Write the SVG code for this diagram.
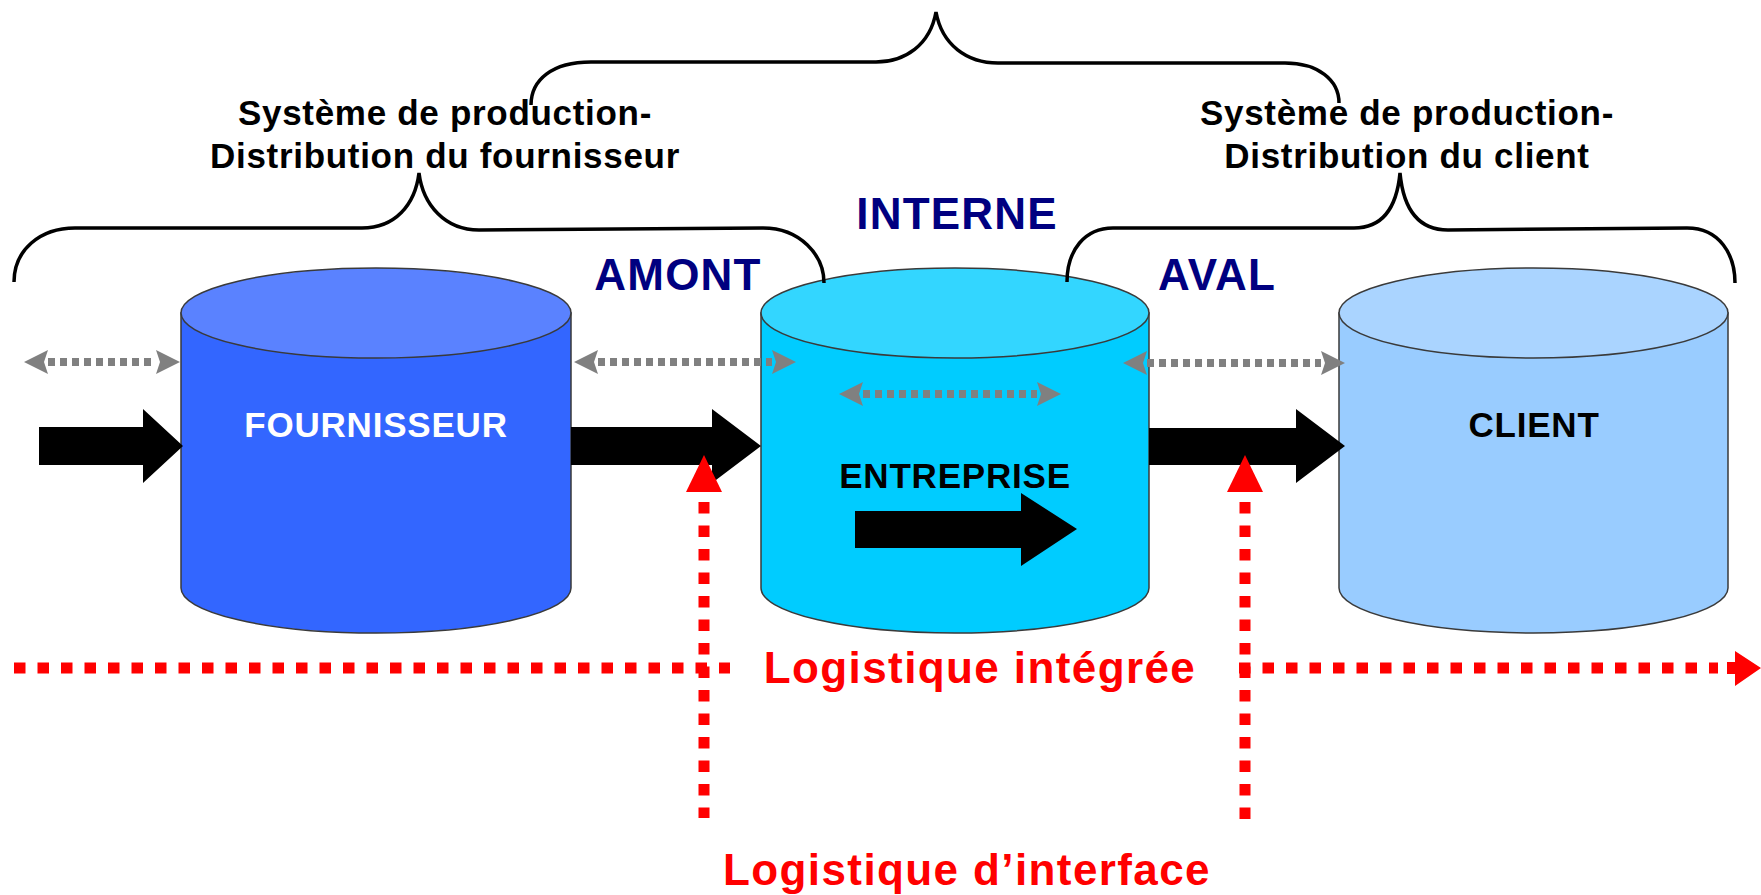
<svg xmlns="http://www.w3.org/2000/svg" width="1761" height="895" viewBox="0 0 1761 895">
<style>
.lbl{font-family:"Liberation Sans",Arial,sans-serif;font-weight:bold;text-anchor:middle}
.sys{font-size:35px;letter-spacing:0.7px;fill:#000}
.cyl{font-size:35px;letter-spacing:0.8px}
.zone{font-size:44px;letter-spacing:1.2px;fill:#000080}
.red{font-size:44px;letter-spacing:1.4px;fill:#FF0000}
.brace{fill:none;stroke:#000;stroke-width:3.5}
.cylout{stroke:#3a3a3a;stroke-width:1.5}
.gline{fill:none;stroke:#808080;stroke-width:8;stroke-dasharray:7 5}
.ghead{fill:#808080}
.block{fill:#000}
.rline{fill:none;stroke:#FF0000;stroke-width:11;stroke-dasharray:11.5 12}
.rhead{fill:#FF0000}
</style>
<rect width="1761" height="895" fill="#fff"/>

<g id="fournisseur">
<path class="cylout" d="M181,313 L181,588 A195,45 0 0 0 571,588 L571,313 Z" fill="#3366FF"/>
<ellipse class="cylout" cx="376" cy="313" rx="195" ry="45" fill="#5A82FF"/>
<text class="lbl cyl" x="376" y="437" fill="#fff">FOURNISSEUR</text>
</g>
<g id="entreprise">
<path class="cylout" d="M761,313 L761,588 A194,45 0 0 0 1149,588 L1149,313 Z" fill="#00CCFF"/>
<ellipse class="cylout" cx="955" cy="313" rx="194" ry="45" fill="#33D6FF"/>
<text class="lbl cyl" x="955" y="488" fill="#000">ENTREPRISE</text>
</g>
<g id="client">
<path class="cylout" d="M1339,313 L1339,588 A194.5,45 0 0 0 1728,588 L1728,313 Z" fill="#99CCFF"/>
<ellipse class="cylout" cx="1533.5" cy="313" rx="194.5" ry="45" fill="#AAD4FF"/>
<text class="lbl cyl" x="1534" y="437" fill="#000">CLIENT</text>
</g>

<g id="braces">
<path class="brace" d="M531,105 C531,80 552,62 591,62 L876,62 C905,62 930,45 936,12 C942,45 967,63 998,63 L1285,63 C1318,63 1339,80 1339,103"/>
<path class="brace" d="M14,282 C14,250 40,228 75,228 L362,228 C395,228 415,205 419,173 C423,205 445,230 479,230 L763,228 C800,228 824,255 824,283"/>
<path class="brace" d="M1067,282 C1067,250 1085,228 1113,228 L1354,228 C1385,228 1397,205 1400,173 C1403,205 1415,230 1448,230 L1687,228 C1720,228 1735,255 1735,283"/>
</g>

<g id="labels">
<text class="lbl sys" x="445" y="125">Système de production-</text>
<text class="lbl sys" x="445" y="168">Distribution du fournisseur</text>
<text class="lbl sys" x="1407" y="125">Système de production-</text>
<text class="lbl sys" x="1407" y="168">Distribution du client</text>
<text class="lbl zone" x="957" y="229">INTERNE</text>
<text class="lbl zone" x="678" y="290">AMONT</text>
<text class="lbl zone" x="1217" y="290">AVAL</text>
<text class="lbl red" x="980" y="683">Logistique intégrée</text>
<text class="lbl red" x="967" y="885">Logistique d’interface</text>
</g>

<g id="connectors">
<!-- gray dotted double arrows -->
<line class="gline" x1="48" y1="362" x2="156" y2="362"/>
<polygon class="ghead" points="24,362 48,350 44,362 48,374"/>
<polygon class="ghead" points="180,362 156,350 160,362 156,374"/>
<line class="gline" x1="598" y1="362" x2="772" y2="362"/>
<polygon class="ghead" points="574,362 598,350 594,362 598,374"/>
<polygon class="ghead" points="796,362 772,350 776,362 772,374"/>
<line class="gline" x1="863" y1="394" x2="1037" y2="394"/>
<polygon class="ghead" points="839,394 863,382 859,394 863,406"/>
<polygon class="ghead" points="1061,394 1037,382 1041,394 1037,406"/>
<line class="gline" x1="1147" y1="363" x2="1321" y2="363"/>
<polygon class="ghead" points="1123,363 1147,351 1143,363 1147,375"/>
<polygon class="ghead" points="1345,363 1321,351 1325,363 1321,375"/>

<!-- black block arrows -->
<polygon class="block" points="39,427 143,427 143,409 183,446 143,483 143,465 39,465"/>
<polygon class="block" points="571,427 712,427 712,409 761,446 712,483 712,465 571,465"/>
<polygon class="block" points="1149,428 1296,428 1296,409 1345,446 1296,483 1296,465 1149,465"/>
<polygon class="block" points="855,511 1021,511 1021,493 1077,529 1021,566 1021,548 855,548"/>

<!-- red dotted lines -->
<line class="rline" x1="14" y1="668" x2="730" y2="668"/>
<line class="rline" x1="1239" y1="668" x2="1718" y2="668"/>
<polygon class="rhead" points="1727,662 1735,662 1735,651 1761,668 1735,686 1735,674 1727,674"/>
<line class="rline" x1="704" y1="502" x2="704" y2="818"/>
<polygon class="rhead" points="704,455 722,492 686,492"/>
<line class="rline" x1="1245" y1="502" x2="1245" y2="830"/>
<polygon class="rhead" points="1245,455 1263,492 1227,492"/>
</g>
</svg>
